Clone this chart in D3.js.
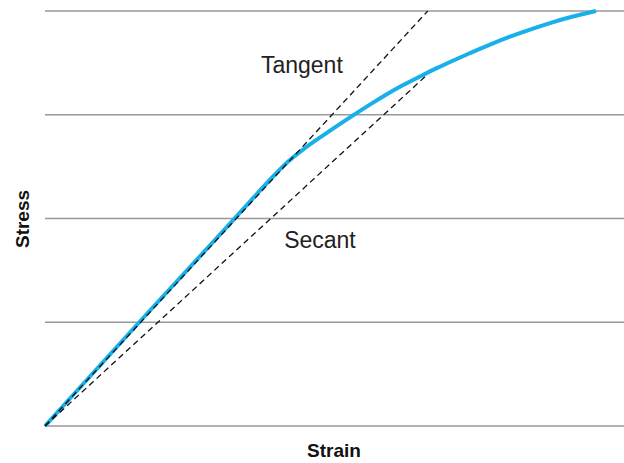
<!DOCTYPE html>
<html><head><meta charset="utf-8">
<script src="https://cdn.jsdelivr.net/npm/d3@7"></script>
<style>body{margin:0;background:#fff}svg{display:block}</style>
</head><body>
<svg id="c" width="624" height="463"></svg>
<script>
// Data (strain normalized 0..1 across plot width, stress in grid units)
const strain = [0, 0.1641, 0.3368, 0.3679, 0.3972, 0.4197, 0.4439, 0.4750, 0.5026, 0.5302, 0.5613, 0.5907, 0.6183, 0.6477, 0.6770, 0.6995, 0.7340, 0.7686, 0.8031, 0.8377, 0.8722, 0.9067, 0.9516];
const stress = [0, 1.012, 2.053, 2.251, 2.424, 2.554, 2.660, 2.781, 2.887, 2.988, 3.099, 3.200, 3.287, 3.369, 3.451, 3.508, 3.595, 3.677, 3.754, 3.822, 3.884, 3.942, 4.000];
const stressTicks = [0, 1, 2, 3, 4];
const tangentLine = [[0, 0], [0.661, 4.0]];
const secantLine = [[0, 0], [0.659, 3.38]];
const labels = [
  {text: "Tangent", sx: 0.373, sy: 3.40},
  {text: "Secant", sx: 0.413, sy: 1.716}
];
const xTitle = "Strain", yTitle = "Stress";

const svg = d3.select("#c");
const x = d3.scaleLinear().domain([0, 1]).range([45, 624]);
const y = d3.scaleLinear().domain([0, 4]).range([426, 11]);

svg.append("g").selectAll("line").data(stressTicks).join("line")
  .attr("x1", x(0)).attr("x2", x(1))
  .attr("y1", d => y(d)).attr("y2", d => y(d))
  .attr("stroke", "#999").attr("stroke-width", 1.4);

const line = d3.line().x(d => x(d[0])).y(d => y(d[1]));
const curve = strain.map((s, i) => [s, stress[i]]);

svg.append("path").datum(curve)
  .attr("d", d3.line().x(d => x(d[0])).y(d => y(d[1])).curve(d3.curveBasis))
  .attr("fill", "none").attr("stroke", "#17b0ea").attr("stroke-width", 4)
  .attr("stroke-linecap", "butt");

[tangentLine, secantLine].forEach(l => {
  svg.append("path").datum(l).attr("d", line)
    .attr("fill", "none").attr("stroke", "#111").attr("stroke-width", 1.3)
    .attr("stroke-dasharray", "6,4");
});

svg.append("g").selectAll("text").data(labels).join("text")
  .attr("x", d => x(d.sx)).attr("y", d => y(d.sy))
  .attr("font-family", "Liberation Sans, Arial, sans-serif")
  .attr("font-size", 23).attr("fill", "#222")
  .text(d => d.text);

svg.append("text").attr("x", 334).attr("y", 457).attr("text-anchor", "middle")
  .attr("font-family", "Liberation Sans, Arial, sans-serif").attr("font-weight", "bold")
  .attr("font-size", 19).attr("fill", "#111").text(xTitle);

svg.append("text").attr("transform", "translate(29,219) rotate(-90)").attr("text-anchor", "middle")
  .attr("font-family", "Liberation Sans, Arial, sans-serif").attr("font-weight", "bold")
  .attr("font-size", 19).attr("fill", "#111").text(yTitle);
</script>
</body></html>
